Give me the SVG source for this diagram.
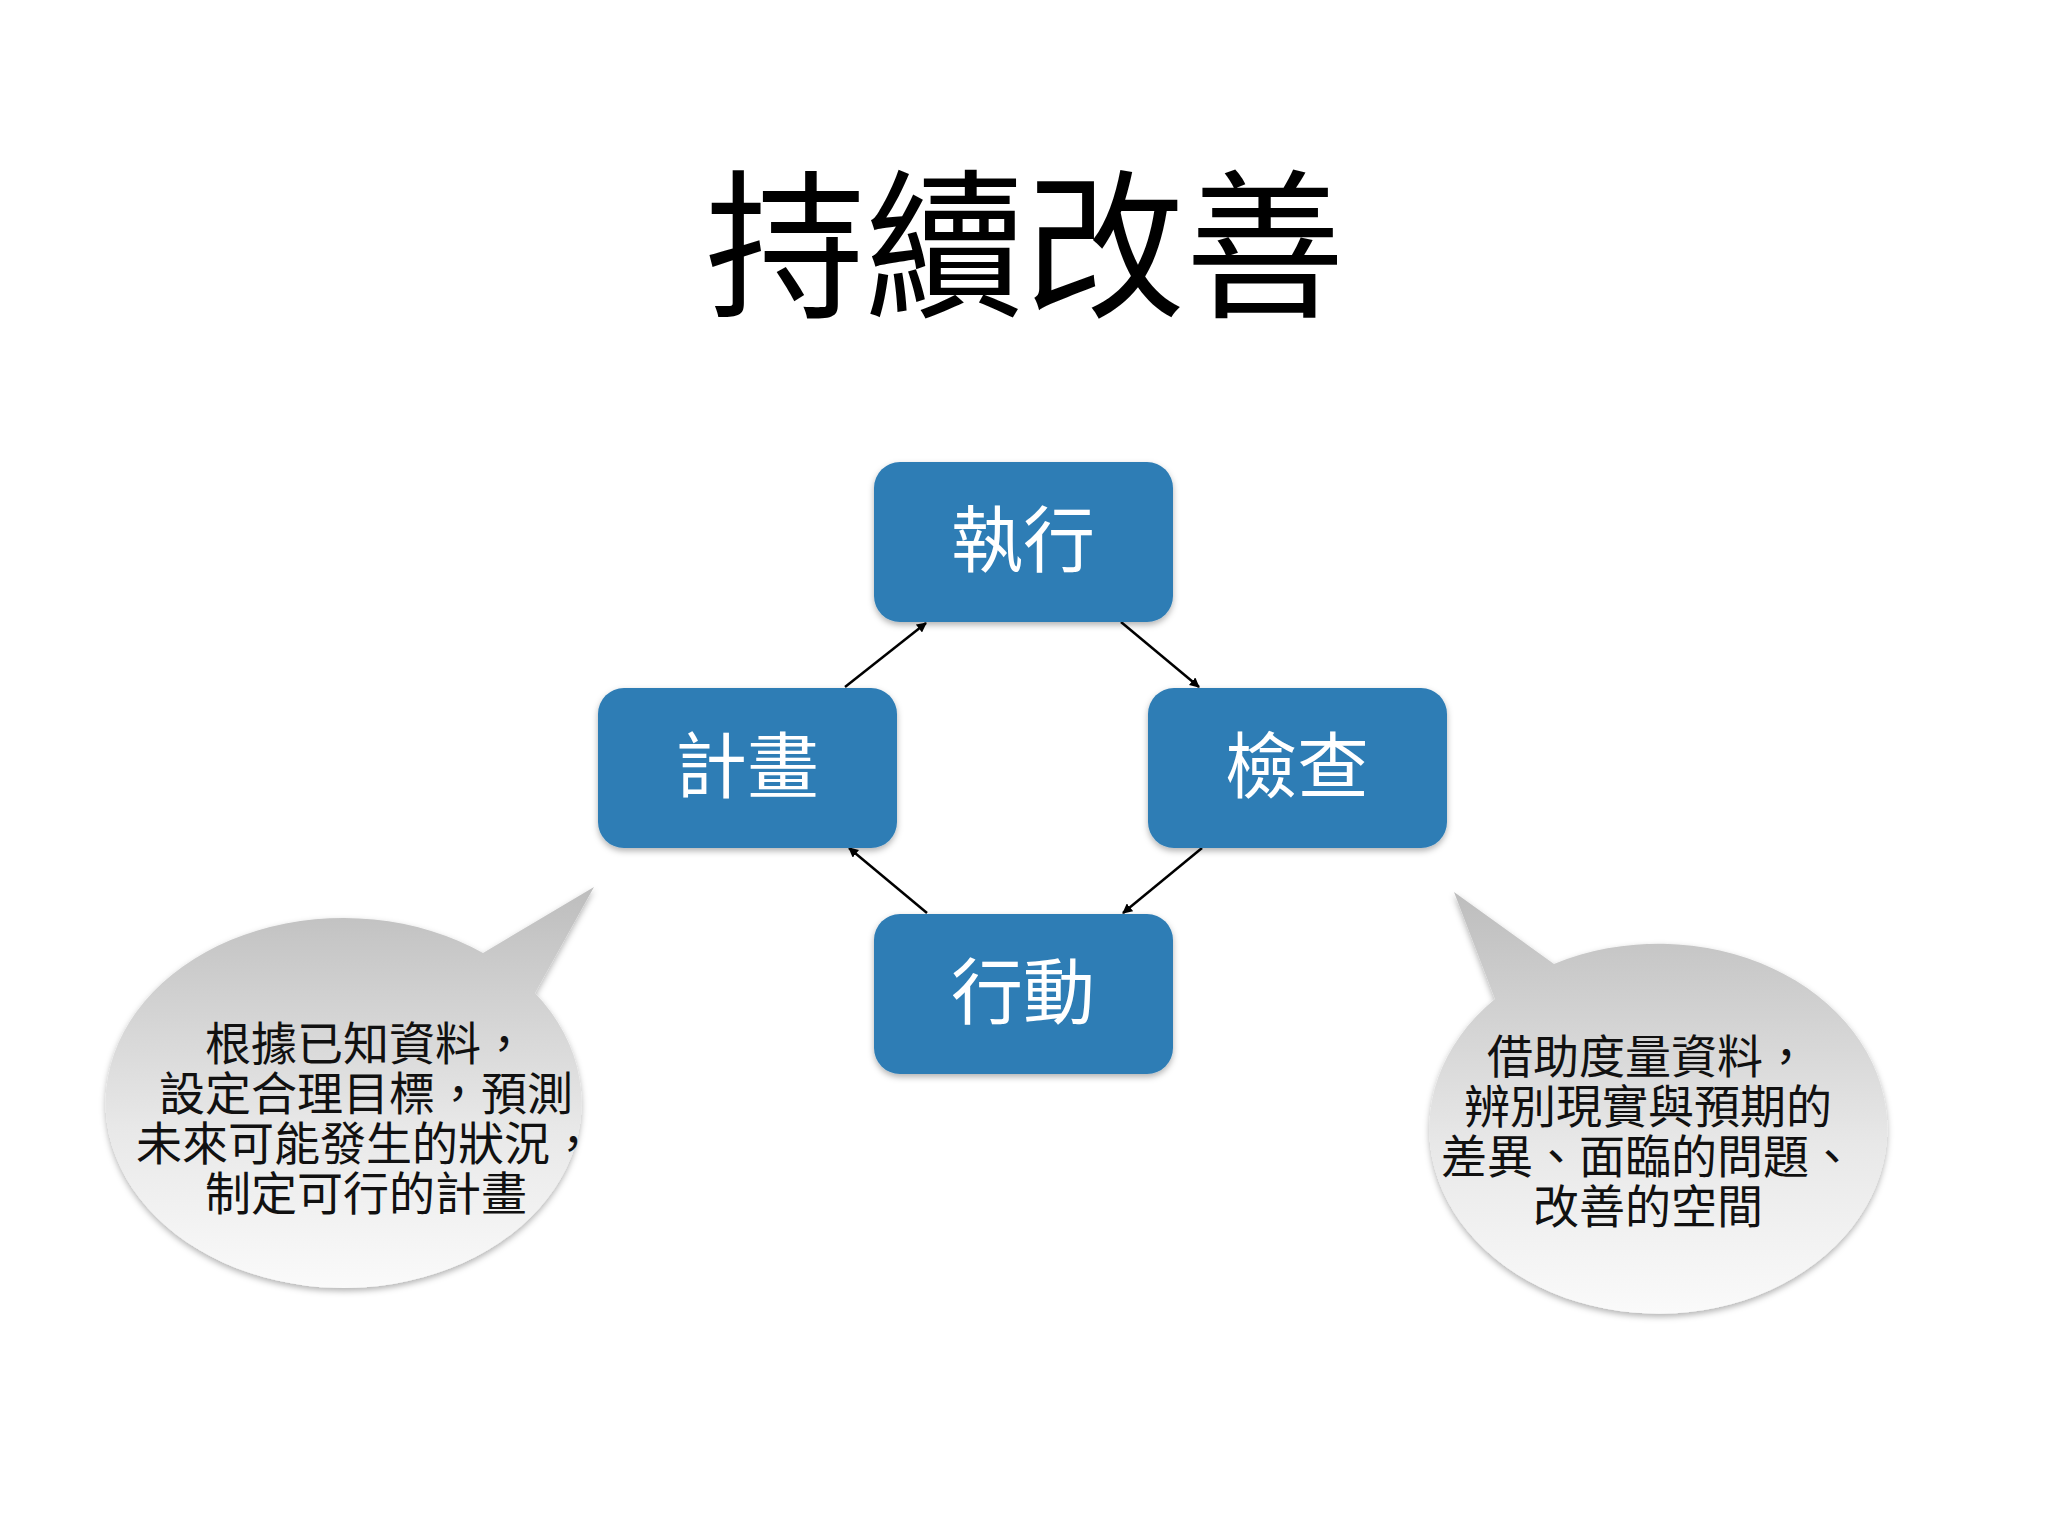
<svg xmlns="http://www.w3.org/2000/svg" width="2048" height="1536" viewBox="0 0 2048 1536">
<defs>
<linearGradient id="bub" x1="0" y1="0" x2="0" y2="1"><stop offset="0" stop-color="#bdbdbd"/><stop offset="0.6" stop-color="#e8e8e8"/><stop offset="1" stop-color="#fafafa"/></linearGradient>
<marker id="ah" markerWidth="10" markerHeight="10" refX="9" refY="5" orient="auto" markerUnits="userSpaceOnUse" viewBox="0 0 10 10"><path d="M0,0 L10,5 L0,10 z" fill="#000"/></marker>
<filter id="sh" x="-10%" y="-10%" width="120%" height="130%"><feDropShadow dx="0" dy="3" stdDeviation="3" flood-opacity="0.3"/></filter>
</defs>
<style>
.t{font-family:"Liberation Sans","Noto Sans CJK TC",sans-serif;text-anchor:middle}
.box{fill:#2e7db5;filter:url(#sh)}
.bt{fill:#fff;font-size:72px}
.ct{fill:#111;font-size:46px}
.c{stroke:#000;stroke-width:2.5;marker-end:url(#ah)}
</style>
<rect width="2048" height="1536" fill="#fff"/>
<text class="t" x="1025" y="305" font-size="160">持續改善</text>
<g id="connectors">
<line class="c" x1="845" y1="687" x2="926" y2="623"/>
<line class="c" x1="1121" y1="622" x2="1199" y2="687"/>
<line class="c" x1="1202" y1="848" x2="1123" y2="913"/>
<line class="c" x1="927" y1="913" x2="849" y2="848"/>
</g>
<g id="n1"><rect class="box" x="874" y="462" width="299" height="160" rx="26"/><text class="t bt" x="1023" y="566">執行</text></g>
<g id="n2"><rect class="box" x="598" y="688" width="299" height="160" rx="26"/><text class="t bt" x="747" y="792">計畫</text></g>
<g id="n3"><rect class="box" x="1148" y="688" width="299" height="160" rx="26"/><text class="t bt" x="1297" y="792">檢查</text></g>
<g id="n4"><rect class="box" x="874" y="914" width="299" height="160" rx="26"/><text class="t bt" x="1023" y="1018">行動</text></g>
<g id="bubble-left" filter="url(#sh)">
<path d="M483,953 A238,185 0 1,0 535,993 L594,887 Z" fill="url(#bub)"/>
</g>
<g id="bubble-left-text">
<text class="t ct" x="366" y="1060">根據已知資料，</text>
<text class="t ct" x="366" y="1110">設定合理目標，預測</text>
<text class="t ct" x="366" y="1160">未來可能發生的狀況，</text>
<text class="t ct" x="366" y="1210">制定可行的計畫</text>
</g>
<g id="bubble-right" filter="url(#sh)">
<path d="M1554,964 A229,185 0 1,1 1495,999 L1454,892 Z" fill="url(#bub)"/>
</g>
<g id="bubble-right-text">
<text class="t ct" x="1648" y="1073">借助度量資料，</text>
<text class="t ct" x="1648" y="1123">辨別現實與預期的</text>
<text class="t ct" x="1648" y="1173">差異、面臨的問題、</text>
<text class="t ct" x="1648" y="1223">改善的空間</text>
</g>
</svg>
